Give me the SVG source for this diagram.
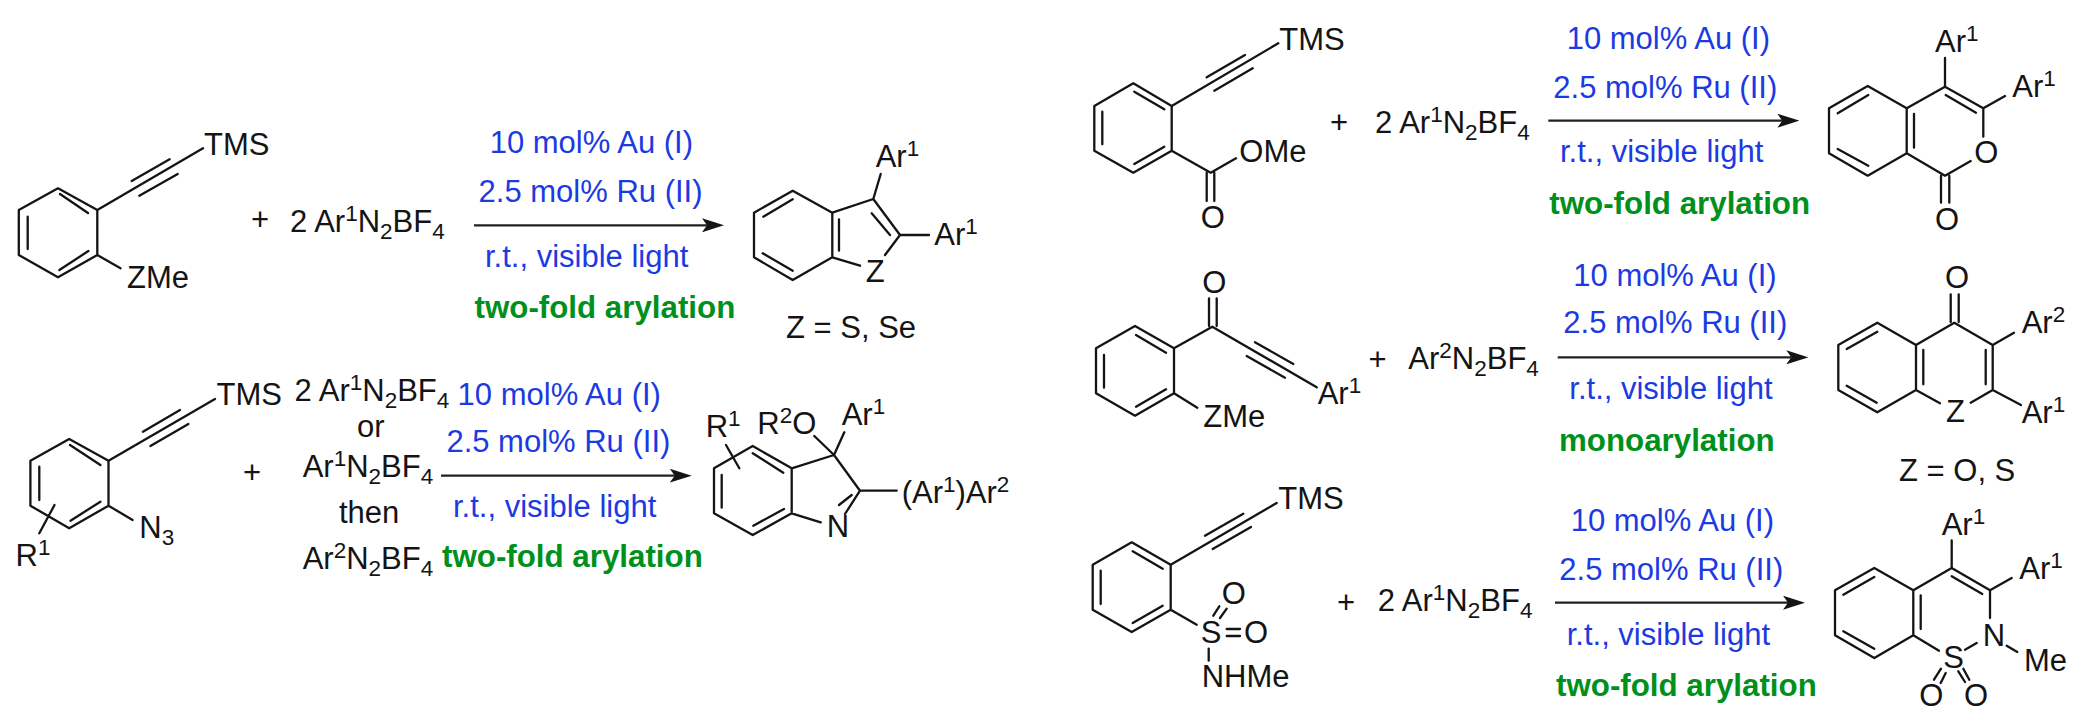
<svg xmlns="http://www.w3.org/2000/svg" width="2076" height="718" viewBox="0 0 2076 718">
<style>
text{font-family:"Liberation Sans",Arial,sans-serif;font-size:31px;fill:#141414}
.s{font-size:22.5px}
.c{fill:#1c3ae2}
.g{fill:#00901c;font-weight:bold;font-size:31.3px}
.b{fill:none;stroke:#141414;stroke-width:2.3;stroke-linecap:round;stroke-linejoin:round}
.a{fill:none;stroke:#222;stroke-width:2.3}
</style>
<defs>
<marker id="h" markerUnits="userSpaceOnUse" markerWidth="22" markerHeight="14" viewBox="0 0 22 14" refX="5" refY="7" orient="auto"><path d="M0,0L22,7L0,14L5,7Z" fill="#141414"/></marker>
</defs>
<rect width="2076" height="718" fill="#fff"/>

<g id="connectors">
<line class="a" x1="474" y1="225.3" x2="707" y2="225.3" marker-end="url(#h)"/>
<line class="a" x1="441" y1="475.7" x2="674.7" y2="475.7" marker-end="url(#h)"/>
<line class="a" x1="1548.3" y1="120.7" x2="1782.3" y2="120.7" marker-end="url(#h)"/>
<line class="a" x1="1557.7" y1="357.3" x2="1791.3" y2="357.3" marker-end="url(#h)"/>
<line class="a" x1="1555" y1="602.7" x2="1788" y2="602.7" marker-end="url(#h)"/>
</g>

<g id="r1-substrate">
<path class="b" d="M58,188.3L97.3,210V255L58,277.3L18.8,255V210ZM60,194L88,213M27.7,216.7V249M59.4,270L88.4,251M97.3,210L203,148.3M131.7,181L169.6,159.3M139.3,195.7L177.7,174M97.3,255L120.5,268.3"/>
<text x="204" y="155">TMS</text><text x="127" y="288.3">ZMe</text>
</g>
<g id="r1-reagent">
<text x="251" y="230">+</text>
<text x="290" y="231.7">2 Ar<tspan class="s" dy="-11">1</tspan><tspan dy="11">N</tspan><tspan class="s" dy="7">2</tspan><tspan dy="-7">BF</tspan><tspan class="s" dy="7">4</tspan></text>
</g>
<g id="r1-conditions">
<text class="c" x="489.7" y="153.3">10 mol% Au (I)</text>
<text class="c" x="478.6" y="201.7">2.5 mol% Ru (II)</text>
<text class="c" x="485" y="266.7">r.t., visible light</text>
<text class="g" x="474.5" y="318">two-fold arylation</text>
</g>
<g id="r1-product">
<path class="b" d="M792.7,190.7L832.3,212.7V257.3L792.7,280L754,257.3V212.7ZM763.3,216.7L792.7,199.3M762.7,253.3L792.7,270.7M839,219.3V250.7M832.3,212.7L873.3,199L900,235L885,255M871.7,213.3L890,235M873.3,199L880.7,174M832.3,257.3L860,265.7M900,235H929"/>
<text x="875.7" y="166.7">Ar<tspan class="s" dy="-11">1</tspan></text>
<text x="934.3" y="245">Ar<tspan class="s" dy="-11">1</tspan></text>
<text x="865.7" y="281.7">Z</text>
<text x="786" y="337.7">Z = S, Se</text>
</g>

<g id="r2-substrate">
<path class="b" d="M69.2,439L108.5,460.7V505.7L69.2,528.3L30.4,505.7V460.7ZM70,445L100.4,465M39.3,466.7V500M70.5,520.7L100.4,501.7M108.5,460.7L215,399M142.9,431.7L180,410M150.4,446L188.4,424M108.5,505.7L132.6,520M54.5,505L39.3,533.3"/>
<text x="216.5" y="405">TMS</text>
<text x="139.3" y="538.3">N<tspan class="s" dy="7">3</tspan></text>
<text x="15.6" y="566">R<tspan class="s" dy="-11">1</tspan></text>
</g>
<g id="r2-reagents">
<text x="243" y="483">+</text>
<text x="294.6" y="400.7">2 Ar<tspan class="s" dy="-11">1</tspan><tspan dy="11">N</tspan><tspan class="s" dy="7">2</tspan><tspan dy="-7">BF</tspan><tspan class="s" dy="7">4</tspan></text>
<text x="357" y="436.7">or</text>
<text x="302.7" y="476.7">Ar<tspan class="s" dy="-11">1</tspan><tspan dy="11">N</tspan><tspan class="s" dy="7">2</tspan><tspan dy="-7">BF</tspan><tspan class="s" dy="7">4</tspan></text>
<text x="339" y="522.7">then</text>
<text x="302.7" y="569.3">Ar<tspan class="s" dy="-11">2</tspan><tspan dy="11">N</tspan><tspan class="s" dy="7">2</tspan><tspan dy="-7">BF</tspan><tspan class="s" dy="7">4</tspan></text>
</g>
<g id="r2-conditions">
<text class="c" x="457.6" y="405">10 mol% Au (I)</text>
<text class="c" x="446.4" y="452.3">2.5 mol% Ru (II)</text>
<text class="c" x="453" y="516.7">r.t., visible light</text>
<text class="g" x="442" y="567.3">two-fold arylation</text>
</g>
<g id="r2-product">
<path class="b" d="M752.7,446L791.7,468.3V513.3L752.7,535L714,513.3V468.3ZM752.7,453.3L783.3,472.7M721.7,475V507.7M753.3,525.7L784,509M791.7,468.3L834,455L860,490.7L845,514M851.7,495L839,505M791.7,513.3L820.7,522.3M834,455L814.3,436M834,455L844.3,432.3M726,445L739.3,468.3M860,490.7H896.7"/>
<text x="826.7" y="537.3">N</text>
<text x="757.3" y="434">R<tspan class="s" dy="-11">2</tspan><tspan dy="11">O</tspan></text>
<text x="841.7" y="425">Ar<tspan class="s" dy="-11">1</tspan></text>
<text x="705.7" y="437.3">R<tspan class="s" dy="-11">1</tspan></text>
<text x="901.7" y="502.7">(Ar<tspan class="s" dy="-11">1</tspan><tspan dy="11">)Ar</tspan><tspan class="s" dy="-11">2</tspan></text>
</g>

<g id="r3-substrate">
<path class="b" d="M1133.3,83.3L1171.7,106V150.7L1133.3,172.7L1094.3,150.7V106ZM1134.3,91.7L1164.3,109.3M1102.3,111.7V144.3M1134.3,164L1164.3,146.7M1171.7,106L1278.3,43.3M1206.7,77.3L1245,55M1214.3,90.7L1252.7,68.3M1171.7,150.7L1210.7,172.7L1236,158.3M1206.7,172.7V201M1214.3,172.7V201"/>
<text x="1279.3" y="50">TMS</text>
<text x="1239.3" y="161.7">OMe</text>
<text x="1200.7" y="228.3">O</text>
</g>
<g id="r3-reagent">
<text x="1330" y="133">+</text>
<text x="1375" y="132.7">2 Ar<tspan class="s" dy="-11">1</tspan><tspan dy="11">N</tspan><tspan class="s" dy="7">2</tspan><tspan dy="-7">BF</tspan><tspan class="s" dy="7">4</tspan></text>
</g>
<g id="r3-conditions">
<text class="c" x="1566.7" y="49.3">10 mol% Au (I)</text>
<text class="c" x="1553.3" y="97.7">2.5 mol% Ru (II)</text>
<text class="c" x="1560" y="162.3">r.t., visible light</text>
<text class="g" x="1549.3" y="214">two-fold arylation</text>
</g>
<g id="r3-product">
<path class="b" d="M1867.7,86L1906.7,108.3V153.3L1867.7,175.7L1829,153.3V108.3ZM1837.7,113.3L1868.3,95M1837.7,149L1868.3,165.7M1914,114V147.7M1906.7,108.3L1945,86.7L1983.3,108.3V136.7M1945.7,95L1976,112.7M1906.7,153.3L1945,175.7L1970.7,161M1941,175.7V202.7M1949.3,175.7V202.7M1945,86.7V58M1983.3,108.3L2005,96"/>
<text x="1974.3" y="163.3">O</text>
<text x="1935" y="230">O</text>
<text x="1935" y="51.7">Ar<tspan class="s" dy="-11">1</tspan></text>
<text x="2012.3" y="96.7">Ar<tspan class="s" dy="-11">1</tspan></text>
</g>

<g id="r4-substrate">
<path class="b" d="M1135,326L1174,348.3V393.3L1135,415.7L1096,393.3V348.3ZM1136,335L1166,352.7M1104,355V387.7M1136,406.7L1166,389.3M1174,348.3L1212.3,326.7L1316.7,387.3M1209,326V298.3M1216.7,326V298.3M1255,342.3L1293.3,364M1246.7,356L1285,377.7M1174,393.3L1197.3,407.7"/>
<text x="1202.3" y="292.7">O</text>
<text x="1317.7" y="404.3">Ar<tspan class="s" dy="-11">1</tspan></text>
<text x="1203.3" y="426.7">ZMe</text>
</g>
<g id="r4-reagent">
<text x="1368.5" y="370">+</text>
<text x="1408.3" y="369">Ar<tspan class="s" dy="-11">2</tspan><tspan dy="11">N</tspan><tspan class="s" dy="7">2</tspan><tspan dy="-7">BF</tspan><tspan class="s" dy="7">4</tspan></text>
</g>
<g id="r4-conditions">
<text class="c" x="1573.3" y="285.7">10 mol% Au (I)</text>
<text class="c" x="1563.3" y="333.3">2.5 mol% Ru (II)</text>
<text class="c" x="1569.3" y="399.3">r.t., visible light</text>
<text class="g" x="1559" y="450.7">monoarylation</text>
</g>
<g id="r4-product">
<path class="b" d="M1877.3,322.7L1916,345V390L1877.3,412.3L1838.3,390V345ZM1846.7,349L1877.3,331.7M1846.7,385.7L1876.7,402.7M1923.3,350V384.3M1916,345L1954.3,322.7L1992.7,345V390L1970.7,402.7M1985.7,350V384.3M1916,390L1940,403.3M1950.7,322V294.3M1958.7,322V294.3M1992.7,345L2014,332.7M1992.7,390L2021,405"/>
<text x="1946" y="421.7">Z</text>
<text x="1945" y="288.3">O</text>
<text x="2021.7" y="333.3">Ar<tspan class="s" dy="-11">2</tspan></text>
<text x="2021.7" y="422.7">Ar<tspan class="s" dy="-11">1</tspan></text>
<text x="1899" y="481">Z = O, S</text>
</g>

<g id="r5-substrate">
<path class="b" d="M1131.7,542.3L1170.7,564.7V609.7L1131.7,632L1092.7,609.7V564.7ZM1132.7,551.3L1162.7,568.7M1100.7,570.7V604M1132.7,623L1162.7,605.7M1170.7,564.7L1276.7,503M1205,535.7L1243.3,513.7M1212.7,549L1251,527M1170.7,609.7L1196.7,624.7M1226.7,629H1240M1226.7,636H1240M1213.3,615.7L1219.3,606.3M1220,618L1226.7,608.7M1208.7,648.7V660.7"/>
<text x="1278.3" y="509">TMS</text>
<text x="1200.7" y="643">S</text>
<text x="1244" y="643">O</text>
<text x="1221.7" y="604">O</text>
<text x="1201.7" y="687.3">NHMe</text>
</g>
<g id="r5-reagent">
<text x="1337" y="612.7">+</text>
<text x="1377.7" y="611.3">2 Ar<tspan class="s" dy="-11">1</tspan><tspan dy="11">N</tspan><tspan class="s" dy="7">2</tspan><tspan dy="-7">BF</tspan><tspan class="s" dy="7">4</tspan></text>
</g>
<g id="r5-conditions">
<text class="c" x="1570.7" y="531.3">10 mol% Au (I)</text>
<text class="c" x="1559.3" y="579.7">2.5 mol% Ru (II)</text>
<text class="c" x="1566.7" y="644.7">r.t., visible light</text>
<text class="g" x="1556" y="696.3">two-fold arylation</text>
</g>
<g id="r5-product">
<path class="b" d="M1874.3,568L1913.3,590.3V635.3L1874.3,658L1835,635.3V590.3ZM1843.3,594.7L1874.3,577M1843.3,631.3L1874.3,648.7M1920.7,595.3V629M1913.3,590.3L1951.7,568L1990,590.3V618M1951.7,576.3L1982.3,594M1913.3,635.3L1939,650.7M1965,649.7L1976.7,643M2006.7,645.7L2017.3,652M1951.7,568V540.3M1990,590.3L2011.7,578M1941,668.7L1934,679.7M1945.7,673L1940.7,683M1958.3,671.3L1965,682M1963.3,668.7L1969.3,679.7"/>
<text x="1982.7" y="646.3">N</text>
<text x="1943.3" y="668">S</text>
<text x="2024" y="671.3">Me</text>
<text x="1941.7" y="534.7">Ar<tspan class="s" dy="-11">1</tspan></text>
<text x="2019.3" y="578.7">Ar<tspan class="s" dy="-11">1</tspan></text>
<text x="1919.3" y="706.3">O</text>
<text x="1964" y="706.3">O</text>
</g>
</svg>
